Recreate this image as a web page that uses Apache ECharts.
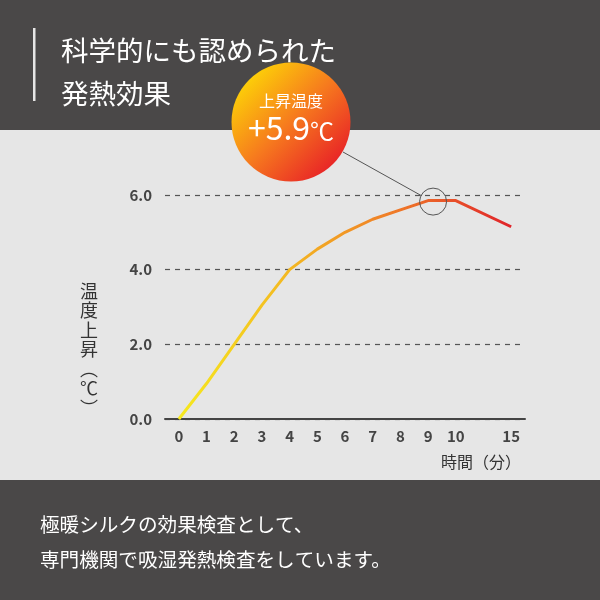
<!DOCTYPE html>
<html>
<head>
<meta charset="utf-8">
<script src="https://cdn.jsdelivr.net/npm/echarts@6/dist/echarts.min.js"></script>
<style>
html, body { margin: 0; padding: 0; background: #e6e6e6; }
#main { width: 600px; height: 600px; }
</style>
</head>
<body>
<div id="main"></div>
<script>
// 時間（分）: 11番目は空き（10分の後は15分）
var minutes = ['0', '1', '2', '3', '4', '5', '6', '7', '8', '9', '10', '', '15'];
// 上昇温度（℃）
var riseTemp = [0, 0.95, 2.0, 3.05, 4.0, 4.55, 5.0, 5.35, 5.6, 5.85, 5.85, null, 5.15];
var yTicks = [0, 2, 4, 6];

var dark = '#4a4848';
var font = '"Noto Sans CJK JP", "Noto Sans", sans-serif';

var chart = echarts.init(document.getElementById('main'));

chart.setOption({
	backgroundColor: '#e6e6e6',
	animation: false,
	grid: {
		left: 165,
		right: 75,
		top: 195,
		bottom: 181
	},
	xAxis: {
		type: 'category',
		data: minutes,
		boundaryGap: true,
		axisLine: { lineStyle: { color: '#444', width: 2 } },
		axisTick: { show: false },
		axisLabel: {
			interval: 0,
			margin: 10,
			color: '#444',
			fontSize: 15,
			fontWeight: 'bold',
			fontFamily: font
		}
	},
	yAxis: {
		type: 'value',
		min: yTicks[0],
		max: yTicks[yTicks.length - 1],
		interval: 2,
		axisLine: { show: false },
		axisTick: { show: false },
		axisLabel: {
			margin: 13,
			color: '#444',
			fontSize: 15,
			fontWeight: 'bold',
			fontFamily: font,
			formatter: function (v) { return v.toFixed(1); }
		},
		splitLine: {
			lineStyle: { color: '#555', type: [5, 5], width: 1.2 }
		}
	},
	series: [{
		type: 'line',
		data: riseTemp,
		connectNulls: true,
		symbol: 'none',
		lineStyle: {
			width: 3,
			color: new echarts.graphic.LinearGradient(0, 0, 1, 0, [
				{ offset: 0, color: '#f6ea1e' },
				{ offset: 0.35, color: '#f3b522' },
				{ offset: 0.65, color: '#ef7a28' },
				{ offset: 1, color: '#e0222a' }
			])
		},
		markPoint: {
			silent: true,
			symbol: 'circle',
			symbolSize: 27,
			symbolOffset: [5, 1],
			label: { show: false },
			itemStyle: { color: 'rgba(0,0,0,0)', borderColor: '#555', borderWidth: 1 },
			data: [{ coord: ['9', 5.85] }]
		}
	}],
	graphic: [
		// 上部の帯
		{ type: 'rect', z: -1, shape: { x: 0, y: 0, width: 600, height: 130 }, style: { fill: dark } },
		// 下部の帯
		{ type: 'rect', z: -1, shape: { x: 0, y: 480, width: 600, height: 120 }, style: { fill: dark } },
		{ type: 'rect', shape: { x: 33, y: 28, width: 2.5, height: 73 }, style: { fill: '#e6e6e6' } },
		{
			type: 'text', left: 61, top: 29,
			style: {
				text: '科学的にも認められた\n発熱効果',
				fill: '#fff', font: 'normal 27.5px ' + font, lineHeight: 43
			}
		},
		{
			type: 'text', left: 40, top: 507,
			style: {
				text: '極暖シルクの効果検査として、\n専門機関で吸湿発熱検査をしています。',
				fill: '#fff', font: '19.6px ' + font, lineHeight: 35
			}
		},
		// 縦書きの軸名
		{
			type: 'text', x: 89, y: 281,
			style: {
				text: '温\n度\n上\n昇\n︵\n℃\n︶',
				fill: '#333', font: '18px ' + font, lineHeight: 19.5, align: 'center'
			}
		},
		{
			type: 'text', x: 521, y: 454,
			style: { text: '時間（分）', fill: '#333', font: '16px ' + font, align: 'right' }
		},
		// 引き出し線
		{ type: 'line', shape: { x1: 343, y1: 152, x2: 422, y2: 196 }, style: { stroke: '#555', lineWidth: 1 } },
		// 上昇温度の丸
		{
			type: 'circle', shape: { cx: 291, cy: 122, r: 59.5 },
			style: {
				fill: new echarts.graphic.LinearGradient(0, 0, 1, 1, [
					{ offset: 0, color: '#ffef00' },
					{ offset: 0.5, color: '#f6791e' },
					{ offset: 1, color: '#e3052a' }
				])
			}
		},
		{
			type: 'text', x: 291, y: 93,
			style: { text: '上昇温度', fill: '#fff', font: '16px ' + font, align: 'center' }
		},
		{
			type: 'text', x: 291, y: 112,
			style: {
				text: '{n|+5.9}{u|℃}',
				align: 'center',
				rich: {
					n: { fill: '#fff', fontSize: 32, fontFamily: font },
					u: { fill: '#fff', fontSize: 24, fontFamily: font, padding: [6, 0, 0, 0] }
				}
			}
		}
	]
});
</script>
</body>
</html>
